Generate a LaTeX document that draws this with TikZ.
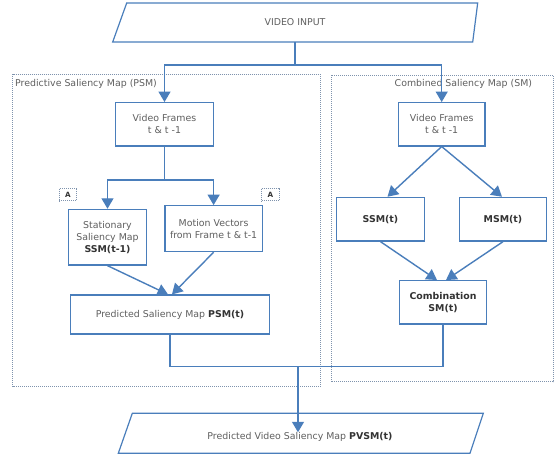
\documentclass[tikz,border=0pt]{standalone}
\usepackage{fontspec}
\setmainfont{DejaVu Sans}
\usetikzlibrary{arrows.meta}
\definecolor{lblue}{HTML}{4A7EBB}
\definecolor{txt}{HTML}{5F5F5F}
\definecolor{dtxt}{HTML}{333333}
\definecolor{dotc}{HTML}{7F93AD}
\newcommand\bt[1]{\textcolor{dtxt}{\textbf{#1}}}
\begin{document}
\begin{tikzpicture}[x=1pt,y=-1pt,
  font=\fontsize{9.4}{12}\selectfont,
  box/.style={draw=lblue,line width=1.2pt,fill=white,text=txt,align=center,inner sep=1pt},
  conn/.style={draw=lblue,line width=1.4pt},
  arr/.style={conn,-{Triangle[width=12pt,length=10.5pt]}},
  dotbox/.style={draw=dotc,line width=0.9pt,dash pattern=on 0.9pt off 1.1pt},
  abox/.style={dotbox,text=dtxt,font=\fontsize{7.2}{8}\selectfont\bfseries,minimum width=17.4pt,minimum height=12.7pt,inner sep=0pt},
  lbl/.style={text=txt,inner sep=0pt}
]
\useasboundingbox (0,0) rectangle (555,458);
% dotted groups
\draw[dotbox] (12.7,74) rectangle (320.5,386.5);
\draw[dotbox] (331,75) rectangle (553,381.7);
\node[lbl,anchor=west] (lpsm) at (15,84) {Predictive Saliency Map (PSM)};
\node[lbl,anchor=east] (lsm) at (532.3,84) {Combined Saliency Map (SM)};
% input / output parallelograms
\draw[box] (126.7,3) -- (477.7,3) -- (472.7,42) -- (112.7,42) -- cycle;
\node[lbl,minimum height=39pt] (vin) at (295,22.5) {VIDEO INPUT};
\draw[box] (132.3,413.3) -- (483.3,413.3) -- (470,453.3) -- (118.3,453.3) -- cycle;
\node[lbl] (pvsm) at (300,437) {Predicted Video Saliency Map \bt{PVSM(t)}};
% PSM side
\node[box,minimum width=97.6pt,minimum height=43.3pt] (vf1) at (164.5,124.3) {Video Frames\\t \& t -1};
\node[box,minimum width=78.4pt,minimum height=55.7pt] (ssm1) at (107.5,237.2) {Stationary\\Saliency Map\\\bt{SSM(t-1)}};
\node[box,minimum width=97.3pt,minimum height=46pt] (mv) at (213.6,228.7) {Motion Vectors\\from Frame t \& t-1};
\node[box,minimum width=198.6pt,minimum height=39pt] (psm) at (170,314.5) {Predicted Saliency Map \bt{PSM(t)}};
\node[abox] (a1) at (68,194.4) {A};
\node[abox] (a2) at (270.5,194.4) {A};
% SM side
\node[box,minimum width=86.7pt,minimum height=43.3pt] (vf2) at (441.7,124.3) {Video Frames\\t \& t -1};
\node[box,minimum width=87.6pt,minimum height=43.7pt] (sst) at (380.5,219.2) {\bt{SSM(t)}};
\node[box,minimum width=87.4pt,minimum height=43.7pt] (msm) at (503,219.2) {\bt{MSM(t)}};
\node[box,minimum width=87.4pt,minimum height=43.3pt] (comb) at (443,302.3) {\bt{Combination}\\\bt{SM(t)}};
% connectors
\coordinate (j1) at (295,65);
\draw[conn] (vin.south) -- (j1);
\draw[arr] (j1) -| (vf1.north);
\draw[arr] (j1) -| (vf2.north);
\coordinate (j2) at (164.5,180);
\draw[conn] (vf1.south) -- (j2);
\draw[arr] (j2) -| (ssm1.north);
\draw[arr] (j2) -| (mv.north);
\draw[arr] (ssm1.south) -- ([xshift=-2pt]psm.north);
\draw[arr] (mv.south) -- ([xshift=2pt]psm.north);
\draw[arr] (vf2.south) -- ([xshift=7pt]sst.north);
\draw[arr] (vf2.south) -- ([xshift=-1pt]msm.north);
\draw[arr] (sst.south) -- ([xshift=-6pt]comb.north);
\draw[arr] (msm.south) -- ([xshift=3pt]comb.north);
\coordinate (j3) at (298,366.7);
\draw[conn] (psm.south) |- (j3) -| (comb.south);
\draw[arr] (j3) -- (j3 |- pvsm.north);
\end{tikzpicture}
\end{document}
